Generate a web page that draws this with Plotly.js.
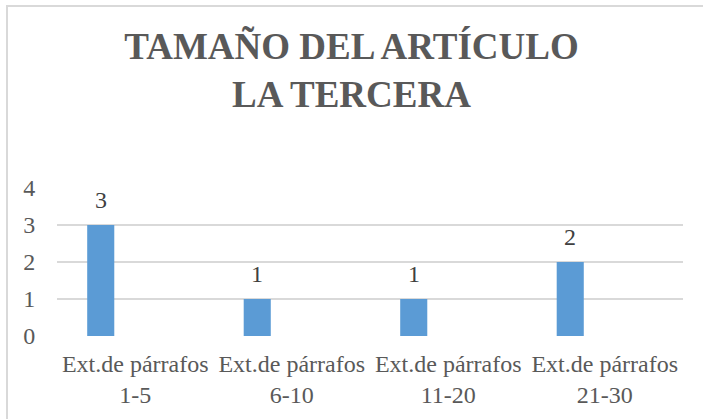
<!DOCTYPE html>
<html>
<head>
<meta charset="utf-8">
<script src="https://cdn.plot.ly/plotly-3.0.1.min.js"></script>
<style>
  html, body { margin: 0; padding: 0; background: #fff; }
  #wrap { position: relative; width: 703px; height: 419px; overflow: hidden; }
  #chart { position: absolute; left: 0; top: 0; width: 703px; height: 419px; }
  #frame { position: absolute; left: 6px; top: 5px; width: 720px; height: 440px;
           border-top: 2px solid #d9d9d9; border-left: 2px solid #d9d9d9; pointer-events: none; }
</style>
</head>
<body>
<div id="wrap">
  <div id="chart"></div>
  <div id="frame"></div>
</div>
<script>
const categories = ["Ext.de párrafos<br>1-5", "Ext.de párrafos<br>6-10", "Ext.de párrafos<br>11-20", "Ext.de párrafos<br>21-30"];
const values = [3, 1, 1, 2];
const yTicks = [0, 1, 2, 3, 4];
const titleText = "TAMAÑO DEL ARTÍCULO<br>LA TERCERA";

const serif = "Liberation Serif, Times New Roman, serif";

const trace = {
  type: "bar",
  x: categories,
  y: values,
  marker: { color: "#5b9bd5", line: { width: 0 } },
  width: 0.173,
  offset: -0.307,
  hoverinfo: "none"
};

const annotations = categories.map((c, i) => ({
  x: c, y: values[i], xref: "x", yref: "y",
  text: String(values[i]), showarrow: false,
  xshift: -34.5, yshift: 10, yanchor: "bottom",
  font: { family: serif, size: 24, color: "#404040" }
}));

const layout = {
  width: 703, height: 419,
  margin: { l: 57, r: 20, t: 188, b: 83 },
  paper_bgcolor: "#fff", plot_bgcolor: "#fff",
  showlegend: false,
  title: {
    text: titleText,
    x: 0.5, xref: "container", xanchor: "center",
    y: 1 - 59 / 419, yref: "container", yanchor: "top",
    font: { family: serif, size: 37, color: "#595959", weight: "bold" }
  },
  xaxis: {
    type: "category",
    showgrid: false, zeroline: false, showline: false, ticks: "",
    tickfont: { family: serif, size: 24, color: "#595959" },
    ticklabelstandoff: 11
  },
  yaxis: {
    range: [0, 4],
    tickvals: yTicks,
    showgrid: true, gridcolor: "#d9d9d9", gridwidth: 1.5,
    zeroline: false, showline: false,
    ticks: "outside", ticklen: 16, tickcolor: "rgba(0,0,0,0)",
    tickfont: { family: serif, size: 24, color: "#595959" }
  },
  annotations: annotations
};

Plotly.newPlot("chart", [trace], layout, { displayModeBar: false, staticPlot: true });
</script>
</body>
</html>
